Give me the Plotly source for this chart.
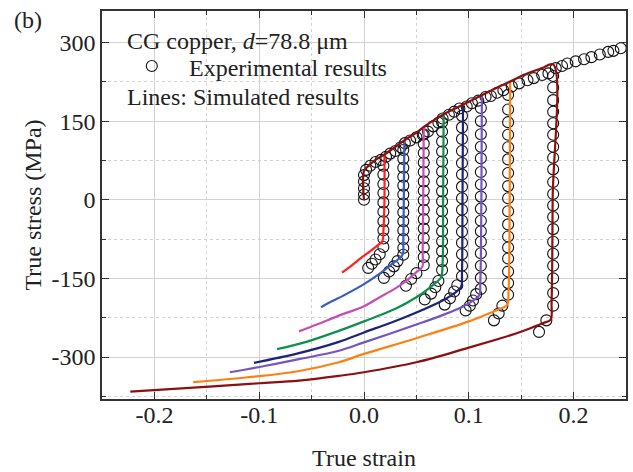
import plotly.graph_objects as go

# ---------------- Experimental data (open circles) ----------------
# initial elastic loading at strain 0
exp0_strain = [0, 0, 0, 0, 0]
exp0_stress = [0, 10, 22, 35, 47]
# monotonic envelope
env_strain = [0.002, 0.006, 0.011, 0.016, 0.021, 0.025, 0.030, 0.035, 0.039, 0.044,
              0.050, 0.056, 0.061, 0.066, 0.071, 0.075, 0.081, 0.086, 0.091, 0.098,
              0.103, 0.109, 0.116, 0.121, 0.127, 0.133, 0.141, 0.148, 0.156, 0.162,
              0.170, 0.176, 0.183, 0.189, 0.194, 0.202, 0.210, 0.217, 0.225, 0.233,
              0.238, 0.245]
env_stress = [57, 65, 72, 76, 82, 88, 93, 100, 108, 113,
              119, 124, 130, 140, 147, 155, 162, 168, 174, 178,
              184, 189, 196, 198, 204, 209, 216, 222, 228, 232,
              238, 241, 251, 255, 260, 264, 268, 272, 277, 282,
              284, 289]
# unloading / reverse loading segments
u1_strain = [0.0185] * 10 + [0.015, 0.011, 0.0075, 0.004]
u1_stress = [65, 48, 30, 13, -5, -23, -41, -58, -74, -90, -104, -114, -122, -130]
u2_strain = [0.0375] * 13 + [0.032, 0.0285, 0.024, 0.019]
u2_stress = [95, 78, 61, 44, 27, 10, -7, -24, -41, -58, -75, -92, -105, -117, -127, -137, -149]
u3_strain = [0.057] * 15 + [0.050, 0.045, 0.040]
u3_stress = [125, 107, 89, 71, 53, 35, 17, -1, -19, -37, -55, -73, -91, -109, -125, -140, -151, -164]
u4_strain = [0.0745] * 16 + [0.071, 0.068, 0.064, 0.058]
u4_stress = [148, 130, 111, 92, 73, 54, 35, 16, -3, -22, -41, -60, -79, -98, -117, -134,
             -155, -167, -179, -190]
u5_strain = [0.0935] * 15 + [0.089, 0.086, 0.082, 0.077]
u5_stress = [160, 138, 116, 93, 70, 48, 25, 3, -19, -40, -61, -82, -104, -126, -146,
             -163, -175, -188, -200]
u6_strain = [0.1115] * 16 + [0.107, 0.104, 0.101, 0.097]
u6_stress = [175, 150, 125, 101, 79, 53, 29, 6, -17, -40, -60, -80, -102, -126, -149, -170,
             -180, -192, -202, -211]
u7_strain = [0.1375] * 17 + [0.132, 0.1285, 0.124]
u7_stress = [200, 172, 148, 124, 100, 77, 51, 26, 3, -22, -47, -70, -91, -112, -137, -159, -181,
             -202, -217, -230]
u8_strain = [0.1805] * 20 + [0.174, 0.167]
u8_stress = [236, 214, 190, 168, 146, 124, 101, 80, 58, 34, 11, -11, -33, -56, -80, -103,
             -126, -150, -178, -202, -230, -252]

# ---------------- Simulated results (lines) ----------------
sim_red_x = [0.0195, 0.0195, 0.0185, 0.0175, 0.013, 0.006, -0.0016, -0.011, -0.021]
sim_red_y = [87, 0, -60, -79, -87, -98, -109, -124, -139]
sim_blue_x = [0.0385, 0.038, 0.0375, 0.037, 0.033, 0.025, 0.015, 0.0, -0.017, -0.033, -0.041]
sim_blue_y = [114, 0, -80, -104, -113, -125, -141, -161, -180, -196, -205]
sim_mag_x = [0.057, 0.0565, 0.056, 0.0556, 0.050, 0.040, 0.030, 0.015, 0.0, -0.024, -0.045, -0.062]
sim_mag_y = [139, 0, -100, -128, -138, -155, -169, -186, -203, -221, -238, -251]
sim_green_x = [0.076, 0.0755, 0.075, 0.0735, 0.068, 0.060, 0.050, 0.030, 0.0, -0.024, -0.055, -0.083]
sim_green_y = [163, 0, -120, -148, -159, -172, -186, -208, -232, -250, -271, -285]
sim_navy_x = [0.0945, 0.094, 0.0935, 0.0927, 0.087, 0.075, 0.050, 0.025, 0.0, -0.024, -0.063, -0.105]
sim_navy_y = [181, 0, -140, -166, -177, -192, -215, -235, -253, -271, -293, -311]
sim_purp_x = [0.1125, 0.112, 0.111, 0.110, 0.105, 0.095, 0.075, 0.050, 0.0, -0.024, -0.062, -0.095, -0.128]
sim_purp_y = [199, 0, -155, -182, -191, -203, -220, -238, -272, -288, -304, -317, -329]
sim_orng_x = [0.1395, 0.139, 0.138, 0.1365, 0.131, 0.120, 0.100, 0.050, 0.0, -0.024, -0.063, -0.113, -0.163]
sim_orng_y = [226, 0, -170, -201, -207, -216, -232, -264, -294, -310, -327, -339, -348]
sim_dred_x = [0.0, 0.0, 0.005, 0.011, 0.020, 0.030, 0.039, 0.050, 0.057, 0.066, 0.076,
              0.085, 0.094, 0.103, 0.112, 0.121, 0.129, 0.140, 0.150, 0.160, 0.170,
              0.1805, 0.180, 0.179, 0.178, 0.171, 0.160, 0.145, 0.129, 0.100, 0.050,
              0.0, -0.024, -0.062, -0.100, -0.144, -0.223]
sim_dred_y = [0, 55, 66, 76, 87, 101, 114, 128, 139, 151, 163,
              172, 181, 190, 199, 208, 216, 226, 236, 244, 251,
              258, 0, -195, -229, -235, -244, -255, -265, -282, -310,
              -329, -336, -345, -350, -356, -366]

sim_lines = [
    (sim_red_x, sim_red_y, "#ff2020"),
    (sim_blue_x, sim_blue_y, "#3b5bbf"),
    (sim_mag_x, sim_mag_y, "#c44fb5"),
    (sim_green_x, sim_green_y, "#0f8f4f"),
    (sim_navy_x, sim_navy_y, "#1c247a"),
    (sim_purp_x, sim_purp_y, "#7555c0"),
    (sim_orng_x, sim_orng_y, "#ff8010"),
    (sim_dred_x, sim_dred_y, "#8b1010"),
]

x_ticks = [-0.2, -0.1, 0.0, 0.1, 0.2]
x_ticktext = ["-0.2", "-0.1", "0.0", "0.1", "0.2"]
x_minor = [-0.25, -0.15, -0.05, 0.05, 0.15, 0.25]
y_ticks = [-300, -150, 0, 150, 300]
y_ticktext = ["-300", "-150", "0", "150", "300"]
y_minor = [-375, -225, -75, 75, 225]

exp_x = (exp0_strain + env_strain + u1_strain + u2_strain + u3_strain + u4_strain
         + u5_strain + u6_strain + u7_strain + u8_strain)
exp_y = (exp0_stress + env_stress + u1_stress + u2_stress + u3_stress + u4_stress
         + u5_stress + u6_stress + u7_stress + u8_stress)

FONT = "Liberation Serif, Times New Roman, serif"
TXT = "#222222"

fig = go.Figure()
fig.add_trace(go.Scatter(
    x=exp_x, y=exp_y, mode="markers", name="Experimental results",
    marker=dict(symbol="circle-open", size=11, color="#111111", line=dict(width=1.1)),
    showlegend=False))
for xs, ys, c in sim_lines:
    fig.add_trace(go.Scatter(x=xs, y=ys, mode="lines",
                             line=dict(color=c, width=2.2, shape="spline", smoothing=1.0),
                             showlegend=False))

axis_common = dict(
    showline=True, linecolor="#333333", linewidth=1.5, mirror="ticks",
    ticks="inside", ticklen=7, tickwidth=1.3, tickcolor="#333333",
    showgrid=True, gridcolor="#d2d2d2", gridwidth=1, zeroline=False,
    tickfont=dict(family=FONT, size=24, color=TXT),
)
fig.update_xaxes(
    range=[-0.25, 0.25], tickmode="array", tickvals=x_ticks, ticktext=x_ticktext,
    minor=dict(tickmode="array", tickvals=x_minor, ticks="inside", ticklen=4,
               tickcolor="#333333", showgrid=True, gridcolor="#d2d2d2", griddash="dot"),
    title=dict(text="True strain", font=dict(family=FONT, size=24, color=TXT), standoff=23),
    ticklabelstandoff=-7,
    **axis_common)
fig.update_yaxes(
    range=[-380, 360], tickmode="array", tickvals=y_ticks, ticktext=y_ticktext,
    minor=dict(tickmode="array", tickvals=y_minor, ticks="inside", ticklen=4,
               tickcolor="#333333", showgrid=True, gridcolor="#d2d2d2", griddash="dot"),
    title=dict(text="True stress (MPa)", font=dict(family=FONT, size=24, color=TXT), standoff=3),
    ticklabelstandoff=0,
    **axis_common)

L, R, T, B = 102, 5, 11, 73
W, H = 633, 472
pw, ph = W - L - R, H - T - B

def px2paper(px, py):
    return (px - L) / pw, (H - B - py) / ph

annots = [
    ("CG copper, <i>d</i>=78.8 μm", 125, 41),
    ("Experimental results", 187, 68),
    ("Lines: Simulated results", 125, 97),
    ("(b)", 12, 20),
]
for text, px, py in annots:
    ax_, ay_ = px2paper(px, py)
    fig.add_annotation(text=text, x=ax_, y=ay_, xref="paper", yref="paper",
                       xanchor="left", yanchor="middle", showarrow=False,
                       font=dict(family=FONT, size=24, color=TXT))

cx, cy = px2paper(152, 66)
fig.add_shape(type="circle", xref="paper", yref="paper", xsizemode="pixel", ysizemode="pixel",
              xanchor=cx, yanchor=cy, x0=-5.5, x1=5.5, y0=-5.5, y1=5.5,
              line=dict(color="#111111", width=1.1))

fig.update_layout(
    width=W, height=H, margin=dict(l=L, r=R, t=T, b=B),
    paper_bgcolor="white", plot_bgcolor="white",
    font=dict(family=FONT, size=24, color=TXT),
)
fig.write_html("out.html")
